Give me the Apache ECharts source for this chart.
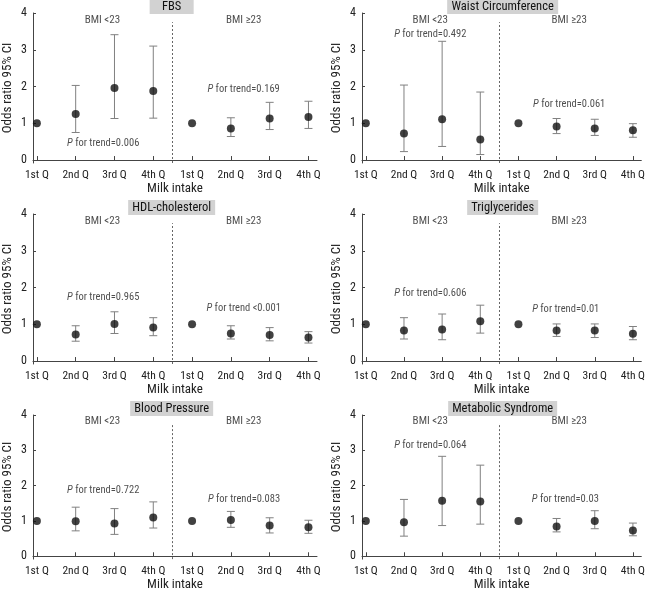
<!DOCTYPE html>
<html>
<head>
<meta charset="utf-8">
<script src="https://cdn.jsdelivr.net/npm/echarts@6/dist/echarts.min.js"></script>
<style>
html,body{margin:0;padding:0;background:#fff;}
#chart{width:648px;height:592px;}
</style>
</head>
<body>
<div id="chart"></div>
<script>
// ---------------- data ----------------
const categories = ['1st Q', '2nd Q', '3rd Q', '4th Q', '1st Q', '2nd Q', '3rd Q', '4th Q'];
const yTickValues = [0, 1, 2, 3, 4];
const panelTitles = ['FBS', 'Waist Circumference', 'HDL-cholesterol', 'Triglycerides', 'Blood Pressure', 'Metabolic Syndrome'];
const groupLabels = ['BMI <23', 'BMI \u226523'];

const fbsOR = [1, 1.25, 1.96, 1.88, 1, 0.86, 1.13, 1.17];
const fbsLo = [null, 0.75, 1.13, 1.14, null, 0.64, 0.83, 0.86];
const fbsHi = [null, 2.03, 3.41, 3.10, null, 1.15, 1.57, 1.60];

const waistOR = [1, 0.72, 1.11, 0.56, 1, 0.91, 0.86, 0.81];
const waistLo = [null, 0.23, 0.37, 0.15, null, 0.72, 0.67, 0.62];
const waistHi = [null, 2.04, 3.23, 1.85, null, 1.13, 1.11, 0.99];

const hdlOR = [1, 0.72, 1.01, 0.91, 1, 0.75, 0.71, 0.64];
const hdlLo = [null, 0.54, 0.75, 0.69, null, 0.60, 0.55, 0.49];
const hdlHi = [null, 0.96, 1.34, 1.18, null, 0.96, 0.91, 0.80];

const tgOR = [1, 0.83, 0.86, 1.08, 1, 0.83, 0.83, 0.74];
const tgLo = [null, 0.60, 0.58, 0.76, null, 0.67, 0.64, 0.58];
const tgHi = [null, 1.18, 1.28, 1.52, null, 1.01, 1.01, 0.94];

const bpOR = [1, 0.99, 0.93, 1.10, 1, 1.03, 0.87, 0.82];
const bpLo = [null, 0.72, 0.62, 0.80, null, 0.82, 0.66, 0.65];
const bpHi = [null, 1.39, 1.35, 1.54, null, 1.27, 1.09, 1.02];

const msOR = [1, 0.96, 1.57, 1.55, 1, 0.84, 1.00, 0.73];
const msLo = [null, 0.57, 0.87, 0.91, null, 0.69, 0.78, 0.58];
const msHi = [null, 1.61, 2.83, 2.58, null, 1.07, 1.29, 0.94];

const pTrendLeft = ['=0.006', '=0.492', '=0.965', '=0.606', '=0.722', '=0.064'];
const pTrendRight = ['=0.169', '=0.061', ' <0.001', '=0.01', '=0.083', '=0.03'];

const panelOR = [fbsOR, waistOR, hdlOR, tgOR, bpOR, msOR];
const panelLo = [fbsLo, waistLo, hdlLo, tgLo, bpLo, msLo];
const panelHi = [fbsHi, waistHi, hdlHi, tgHi, bpHi, msHi];

// ---------------- layout ----------------
const FONT = '"Noto Sans Condensed", "Liberation Sans Narrow", "Roboto Condensed", Roboto, sans-serif';
const X_MIN = 0.9, X_MAX = 8.22, Y_MIN = -0.08, Y_MAX = 4;
const gridLefts = [31, 362];
const gridTops = [13, 214, 415];
const GRID_W = 286, GRID_H = 150;
const boxMinWidths = [44, 91, 83, 66, 80, 93];
const TITLE_FS = 12.5;
const pLeftPos = [[2.71, 0.46], [2.69, 3.42], [2.71, 1.72], [2.69, 1.83], [2.71, 1.88], [2.69, 3.13]];
const pRightPos = [[6.33, 1.91], [6.33, 1.52], [6.33, 1.42], [6.24, 1.41], [6.34, 1.61], [6.23, 1.61]];
const groupPos = [[2.69, 3.81], [6.33, 3.81]];

const measureCtx = document.createElement('canvas').getContext('2d');
measureCtx.font = TITLE_FS + 'px ' + FONT;

const grids = [], xAxes = [], yAxes = [], series = [], graphics = [];

function errRender(params, api) {
  const x = api.value(0), lo = api.value(1), hi = api.value(2);
  const pHi = api.coord([x, hi]);
  const pLo = api.coord([x, lo]);
  const cap = 4;
  const style = { stroke: '#808080', lineWidth: 1 };
  return {
    type: 'group',
    children: [
      { type: 'line', shape: { x1: pHi[0], y1: pHi[1], x2: pLo[0], y2: pLo[1] }, style },
      { type: 'line', shape: { x1: pHi[0] - cap, y1: pHi[1], x2: pHi[0] + cap, y2: pHi[1] }, style },
      { type: 'line', shape: { x1: pLo[0] - cap, y1: pLo[1], x2: pLo[0] + cap, y2: pLo[1] }, style }
    ]
  };
}

const richI = { i: { fontStyle: 'italic', fontFamily: FONT, fontSize: 10.5, color: '#222' } };

for (let i = 0; i < 6; i++) {
  const row = Math.floor(i / 2), col = i % 2;
  const left = gridLefts[col], top = gridTops[row];
  grids.push({ left: left, top: top, width: GRID_W, height: GRID_H });
  xAxes.push({
    type: 'value', gridIndex: i, min: X_MIN, max: X_MAX,
    name: 'Milk intake', nameLocation: 'middle', nameGap: 17,
    nameTextStyle: { fontFamily: FONT, fontSize: 13, color: '#222' },
    axisLine: { lineStyle: { color: '#444', width: 1 } },
    axisTick: { inside: true, length: 4, customValues: [1, 2, 3, 4, 5, 6, 7, 8], lineStyle: { color: '#444' } },
    axisLabel: {
      customValues: [1, 2, 3, 4, 5, 6, 7, 8], margin: 6,
      fontFamily: FONT, fontSize: 11.5, color: '#222',
      formatter: v => categories[Math.round(v) - 1] || ''
    },
    splitLine: { show: false }
  });
  yAxes.push({
    type: 'value', gridIndex: i, min: Y_MIN, max: Y_MAX,
    name: 'Odds ratio 95% CI', nameLocation: 'middle', nameGap: 19,
    nameTextStyle: { fontFamily: FONT, fontSize: 13, color: '#222' },
    axisLine: { show: true, lineStyle: { color: '#444', width: 1 } },
    axisTick: { show: true, inside: true, length: 3, customValues: yTickValues, lineStyle: { color: '#444' } },
    axisLabel: { customValues: yTickValues, margin: 6, fontFamily: FONT, fontSize: 12, color: '#222' },
    splitLine: { show: false }
  });

  const OR = panelOR[i], LO = panelLo[i], HI = panelHi[i];
  const errData = [];
  const ptData = [];
  for (let k = 0; k < OR.length; k++) {
    ptData.push([k + 1, OR[k]]);
    if (LO[k] != null) errData.push([k + 1, LO[k], HI[k]]);
  }
  series.push({
    type: 'custom', xAxisIndex: i, yAxisIndex: i, renderItem: errRender,
    data: errData, silent: true, z: 2, clip: false
  });
  series.push({
    type: 'scatter', xAxisIndex: i, yAxisIndex: i, data: ptData,
    symbol: 'circle', symbolSize: 8, itemStyle: { color: '#111' }, z: 3, silent: true,
    markLine: {
      silent: true, symbol: 'none', label: { show: false },
      lineStyle: { color: '#666', type: [2, 2], width: 1 },
      data: [[{ coord: [4.5, Y_MIN] }, { coord: [4.5, 3.75] }]]
    }
  });
  series.push({
    type: 'scatter', xAxisIndex: i, yAxisIndex: i, silent: true, symbolSize: 1,
    itemStyle: { color: 'rgba(0,0,0,0)' }, z: 4,
    label: { show: true, position: 'inside', color: '#222', fontFamily: FONT, fontSize: 11 },
    data: [
      { value: groupPos[0], label: { formatter: groupLabels[0] } },
      { value: groupPos[1], label: { formatter: groupLabels[1] } },
      { value: pLeftPos[i], label: { fontSize: 10.5, formatter: '{i|P} for trend' + pTrendLeft[i], rich: richI } },
      { value: pRightPos[i], label: { fontSize: 10.5, formatter: '{i|P} for trend' + pTrendRight[i], rich: richI } }
    ]
  });

  const cx = left + (4.5 - X_MIN) / (X_MAX - X_MIN) * GRID_W;
  const bw = Math.max(boxMinWidths[i], Math.ceil(measureCtx.measureText(panelTitles[i]).width) + 8);
  graphics.push({
    type: 'rect', left: cx - bw / 2, top: top - 14, shape: { width: bw, height: 15 },
    style: { fill: '#d2d2d2' }, z: 10
  });
  graphics.push({
    type: 'text', x: cx, y: top - 6.5, z: 11,
    style: { text: panelTitles[i], align: 'center', verticalAlign: 'middle', fill: '#111', font: TITLE_FS + 'px ' + FONT }
  });
}

const chart = echarts.init(document.getElementById('chart'), null, { renderer: 'canvas' });
chart.setOption({
  animation: false,
  backgroundColor: '#fff',
  textStyle: { fontFamily: FONT },
  grid: grids,
  xAxis: xAxes,
  yAxis: yAxes,
  series: series,
  graphic: graphics
});
</script>
</body>
</html>
